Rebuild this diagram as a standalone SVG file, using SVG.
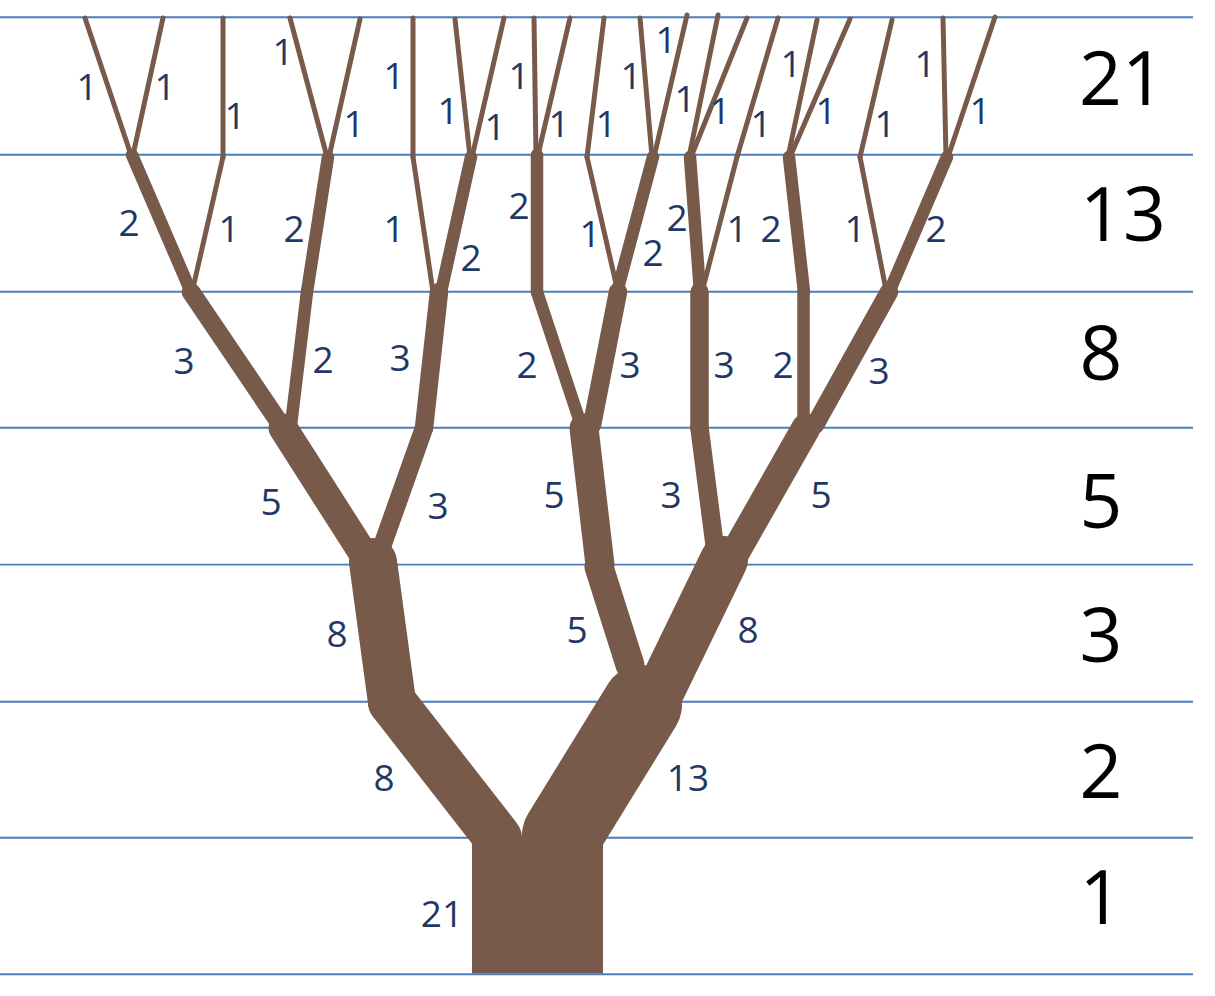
<svg xmlns="http://www.w3.org/2000/svg" width="1215" height="996" viewBox="0 0 1215 996">
<style>
.grid line{stroke:#4A7EBB;stroke-width:1.9}
.br{stroke:#775A4A;stroke-linecap:round;fill:none}
.w1{stroke-width:5}
.w2{stroke-width:12.5}
.w3{stroke-width:18.5}
.w5{stroke-width:29}
.w8{stroke-width:48}
.w13{stroke-width:80}
.lbl{font-family:"Open Sans","Liberation Sans",sans-serif;font-size:37px;fill:#1F3864;text-anchor:middle}
.lvl{font-family:"Open Sans","Liberation Sans",sans-serif;font-size:75px;fill:#000;text-anchor:middle}
</style>
<rect width="1215" height="996" fill="#fff"/>
<g id="grid" class="grid">
<line x1="0" y1="17.3" x2="1193" y2="17.3"/>
<line x1="0" y1="154.7" x2="1193" y2="154.7"/>
<line x1="0" y1="291.7" x2="1193" y2="291.7"/>
<line x1="0" y1="427.8" x2="1193" y2="427.8"/>
<line x1="0" y1="564.6" x2="1193" y2="564.6"/>
<line x1="0" y1="701.7" x2="1193" y2="701.7"/>
<line x1="0" y1="837.8" x2="1193" y2="837.8"/>
</g>
<g id="tree">
<g id="row7" class="br w1">
<line x1="131" y1="155" x2="85" y2="18"/>
<line x1="133" y1="155" x2="163" y2="18"/>
<line x1="223" y1="157" x2="223" y2="18"/>
<line x1="327" y1="157" x2="290" y2="18"/>
<line x1="329" y1="157" x2="360" y2="19"/>
<line x1="413" y1="157" x2="413" y2="18"/>
<line x1="470" y1="157" x2="455" y2="19"/>
<line x1="472" y1="157" x2="504" y2="18"/>
<line x1="536" y1="155" x2="534" y2="18"/>
<line x1="538" y1="155" x2="570" y2="18"/>
<line x1="587" y1="157" x2="604" y2="18"/>
<line x1="652" y1="157" x2="640" y2="18"/>
<line x1="654" y1="157" x2="687" y2="15"/>
<line x1="689" y1="157" x2="718" y2="15"/>
<line x1="691" y1="157" x2="747" y2="18"/>
<line x1="737" y1="157" x2="778" y2="18"/>
<line x1="788" y1="157" x2="817" y2="20"/>
<line x1="790" y1="157" x2="850" y2="19"/>
<line x1="860" y1="157" x2="892" y2="20"/>
<line x1="946" y1="157" x2="943" y2="18"/>
<line x1="948" y1="157" x2="995" y2="17"/>
</g>
<g id="row6" class="br">
<line class="w2" x1="191" y1="292" x2="132" y2="155"/>
<line class="w1" x1="193" y1="288" x2="223" y2="157"/>
<line class="w2" x1="307" y1="292" x2="328" y2="157"/>
<line class="w1" x1="433" y1="292" x2="413" y2="157"/>
<line class="w2" x1="441" y1="292" x2="471" y2="157"/>
<line class="w2" x1="537" y1="292" x2="537" y2="155"/>
<line class="w1" x1="617" y1="288" x2="587" y2="157"/>
<line class="w2" x1="617" y1="292" x2="653" y2="157"/>
<line class="w2" x1="700" y1="292" x2="690" y2="157"/>
<line class="w1" x1="703" y1="288" x2="737" y2="157"/>
<line class="w2" x1="804" y1="292" x2="789" y2="157"/>
<line class="w1" x1="886" y1="290" x2="860" y2="157"/>
<line class="w2" x1="890" y1="290" x2="947" y2="157"/>
</g>
<g id="row5" class="br">
<line class="w3" x1="283" y1="428" x2="191" y2="292"/>
<line class="w2" x1="291" y1="425" x2="307" y2="292"/>
<line class="w3" x1="424" y1="428" x2="439" y2="292"/>
<line class="w2" x1="580" y1="422" x2="537" y2="292"/>
<line class="w3" x1="592" y1="425" x2="618" y2="292"/>
<line class="w3" x1="699.5" y1="428" x2="699.5" y2="292"/>
<line class="w2" x1="803.5" y1="428" x2="803.5" y2="292"/>
<line class="w3" x1="815" y1="425" x2="889" y2="292"/>
</g>
<g id="row4" class="br">
<line class="w5" x1="366" y1="558" x2="283" y2="428"/>
<line class="w3" x1="380" y1="552" x2="424" y2="428"/>
<line class="w5" x1="600" y1="565" x2="584" y2="428"/>
<line class="w3" x1="715" y1="548" x2="699.5" y2="428"/>
<line class="w5" x1="735" y1="553" x2="806" y2="428"/>
</g>
<g id="row3" class="br">
<line class="w8" x1="392" y1="702" x2="373" y2="562"/>
<line class="w5" x1="630" y1="665" x2="599" y2="567"/>
<line class="w8" x1="661" y1="690" x2="724" y2="560"/>
</g>
<g id="row2" class="br">
<line class="w8" x1="498" y1="838" x2="392" y2="702"/>
<line class="w13" x1="562" y1="835" x2="642" y2="705"/>
</g>
<rect id="trunk" x="472" y="838" width="131" height="135.5" fill="#775A4A"/>
</g>
<g id="grid-bottom" class="grid">
<line x1="0" y1="974.3" x2="1193" y2="974.3"/>
</g>
<g id="branch-labels" class="lbl">
<text x="87" y="100">1</text>
<text x="165" y="100">1</text>
<text x="235" y="129">1</text>
<text x="283" y="65">1</text>
<text x="354" y="137">1</text>
<text x="394" y="89">1</text>
<text x="448" y="124">1</text>
<text x="495" y="140">1</text>
<text x="519" y="89">1</text>
<text x="559" y="137">1</text>
<text x="606" y="137">1</text>
<text x="631" y="89">1</text>
<text x="666" y="53">1</text>
<text x="685" y="112">1</text>
<text x="720" y="124">1</text>
<text x="761" y="137">1</text>
<text x="791" y="77">1</text>
<text x="826" y="124">1</text>
<text x="885" y="137">1</text>
<text x="925" y="77">1</text>
<text x="980" y="124">1</text>
<text x="129" y="236">2</text>
<text x="229" y="242">1</text>
<text x="294" y="242">2</text>
<text x="394" y="242">1</text>
<text x="471" y="271">2</text>
<text x="519" y="219">2</text>
<text x="590" y="247">1</text>
<text x="653" y="266">2</text>
<text x="677" y="231">2</text>
<text x="737" y="242">1</text>
<text x="771" y="242">2</text>
<text x="855" y="242">1</text>
<text x="936" y="242">2</text>
<text x="184" y="374">3</text>
<text x="323" y="373">2</text>
<text x="400" y="371">3</text>
<text x="527" y="378">2</text>
<text x="630" y="378">3</text>
<text x="724" y="378">3</text>
<text x="783" y="378">2</text>
<text x="879" y="384">3</text>
<text x="271" y="515">5</text>
<text x="438" y="519">3</text>
<text x="554" y="508">5</text>
<text x="671" y="508">3</text>
<text x="821" y="508">5</text>
<text x="337" y="647">8</text>
<text x="577" y="643">5</text>
<text x="748" y="643">8</text>
<text x="384" y="791">8</text>
<text x="688" y="791">13</text>
<text x="442" y="927">21</text>
</g>
<g id="level-labels" class="lvl">
<text x="1122" y="105">21</text>
<text x="1123" y="241">13</text>
<text x="1101" y="380">8</text>
<text x="1101" y="528">5</text>
<text x="1101" y="662">3</text>
<text x="1101" y="798">2</text>
<text x="1101" y="924">1</text>
</g>
</svg>
